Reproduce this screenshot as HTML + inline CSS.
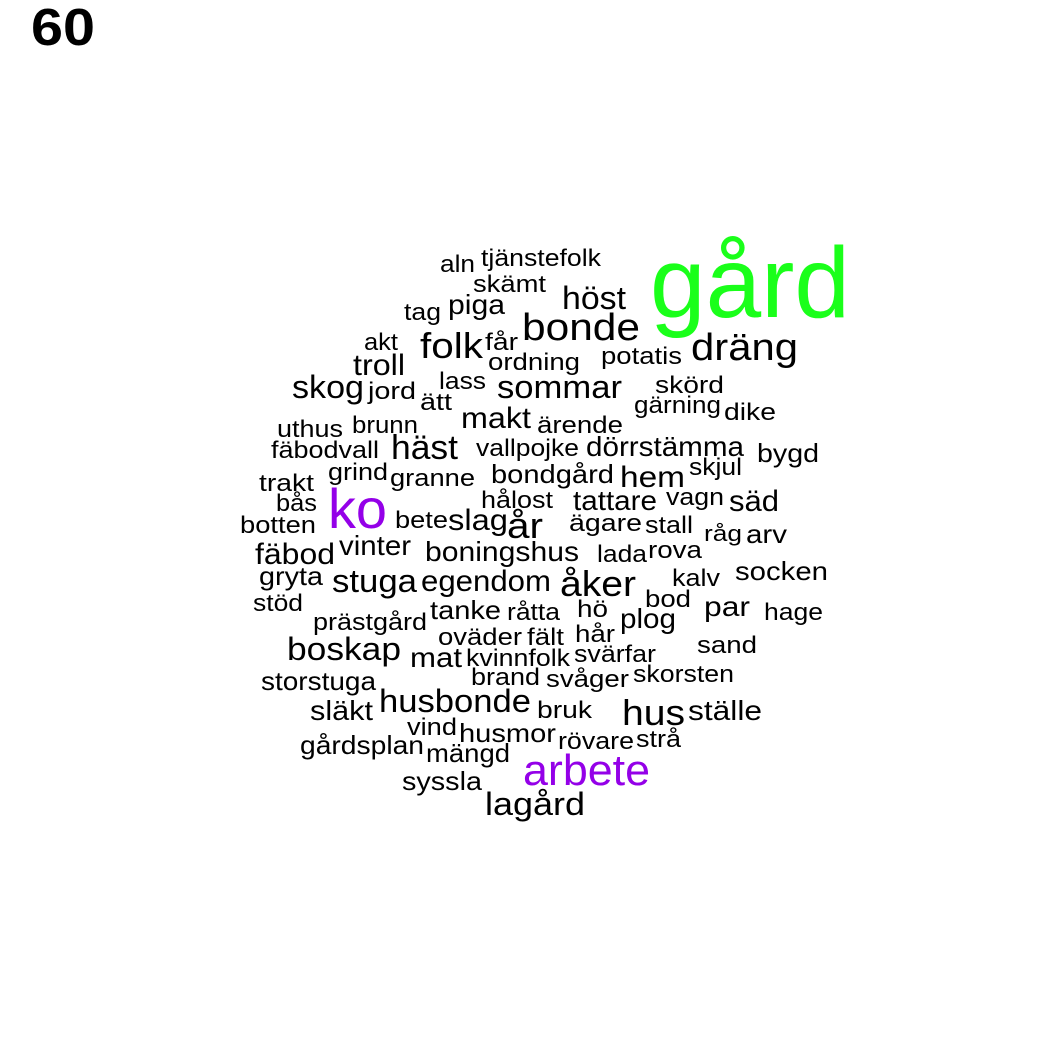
<!DOCTYPE html>
<html>
<head>
<meta charset="utf-8">
<style>
html,body{margin:0;padding:0;background:#fff;}
svg{display:block;}
text{font-family:"Liberation Sans",Arial,sans-serif;fill:#000;}
</style>
</head>
<body>
<svg id="cloud" width="1050" height="1050" viewBox="0 0 1050 1050" xmlns="http://www.w3.org/2000/svg">
<rect width="1050" height="1050" fill="#fff"/>
<text x="31" y="45" font-size="52" font-weight="bold" textLength="64" lengthAdjust="spacingAndGlyphs">60</text>
</svg>
<script>
const words = ["aln","tjänstefolk","skämt","gård","höst","tag","piga","bonde","akt","får","folk","dräng","troll","ordning","potatis","skog","jord","lass","sommar","skörd","ätt","gärning","dike","uthus","brunn","makt","ärende","fäbodvall","häst","vallpojke","dörrstämma","bygd","trakt","grind","granne","bondgård","hem","skjul","bås","hålost","tattare","vagn","säd","ko","botten","bete","slag","år","ägare","stall","råg","arv","fäbod","vinter","boningshus","lada","rova","gryta","stuga","egendom","åker","kalv","socken","stöd","bod","tanke","råtta","hö","par","hage","prästgård","plog","oväder","fält","hår","boskap","sand","mat","kvinnfolk","svärfar","storstuga","brand","svåger","skorsten","husbonde","släkt","bruk","hus","ställe","vind","husmor","rövare","strå","gårdsplan","mängd","arbete","syssla","lagård"];
const sizes = [24,24,24,100,32,24,28,38,24,24,36,38,30,24,24,32,24,24,32,24,24,24,24,24,24,30,24,24,34,24,28,26,24,24,24,26,30,24,24,24,28,24,30,56,24,24,30,36,24,24,22,26,30,28,28,24,24,26,32,30,36,24,26,24,24,26,24,24,28,24,24,28,24,24,24,32,24,28,24,24,26,24,24,24,32,28,24,36,28,24,26,24,24,26,26,44,26,32];
const colors = {"gård":"#1aff1a","ko":"#9400e8","arbete":"#9400e8"};
// layout boxes: [left, right, baseline]
const boxes = [[440,475,272],[481,601,266],[473,546,292],[650,850,317],[562,626,309],[404,441,320],[448,505,314],[522,640,340],[364,398,350],[485,518,350],[420,483,358],[691,798,360],[353,405,375],[488,580,370],[601,682,364],[292,364,398],[368,416,399],[439,486,389],[497,622,398],[655,724,393],[420,452,410],[634,721,413],[724,776,420],[277,343,437],[352,418,433],[461,531,428],[537,623,433],[271,379,458],[391,458,459],[476,579,456],[586,744,456],[757,819,462],[259,314,491],[328,388,480],[390,475,486],[491,614,483],[620,685,487],[689,742,475],[276,317,511],[481,553,508],[573,657,510],[666,724,505],[729,779,511],[328,387,528],[240,316,533],[395,448,528],[448,508,530],[507,543,538],[569,642,531],[645,693,533],[704,742,541],[746,787,543],[255,335,564],[339,411,555],[425,579,561],[597,647,562],[648,702,558],[259,323,585],[332,417,592],[421,551,591],[560,636,596],[672,720,586],[735,828,580],[253,303,611],[645,691,607],[430,501,619],[507,560,620],[577,608,617],[704,750,616],[764,823,620],[313,427,630],[620,676,628],[438,522,645],[527,564,645],[575,615,642],[287,401,660],[697,757,653],[410,462,667],[466,570,666],[574,656,662],[261,376,690],[471,540,685],[546,629,687],[633,734,682],[379,531,712],[310,373,720],[537,592,718],[622,685,725],[688,762,720],[407,457,735],[459,556,742],[558,634,749],[636,681,747],[300,424,754],[426,510,762],[523,650,785],[402,482,790],[485,585,815]];
const svg = document.getElementById('cloud');
const NS = "http://www.w3.org/2000/svg";
words.forEach((w,i)=>{
  const b = boxes[i];
  const t = document.createElementNS(NS,'text');
  t.setAttribute('x', b[0]);
  t.setAttribute('y', b[2]);
  t.setAttribute('font-size', sizes[i]);
  t.setAttribute('textLength', b[1]-b[0]);
  t.setAttribute('lengthAdjust', 'spacingAndGlyphs');
  if (colors[w]) t.style.fill = colors[w];
  t.textContent = w;
  
  
  svg.appendChild(t);
});
</script>
</body>
</html>
